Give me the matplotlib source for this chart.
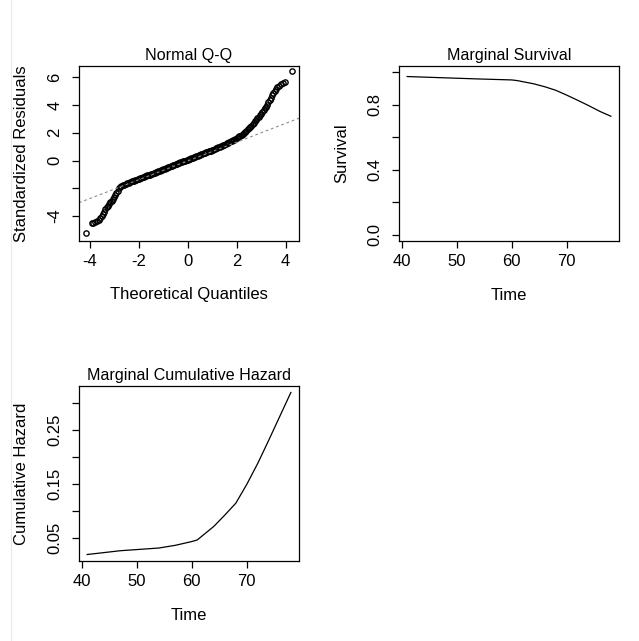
import numpy as np
import matplotlib
matplotlib.use("Agg")
import matplotlib.pyplot as plt
from matplotlib.lines import Line2D

plt.rcParams['font.family'] = ['Liberation Sans', 'DejaVu Sans']

# Normal Q-Q: theoretical quantiles and standardized residuals
qq_theo = [
    -4.17, -3.93, -3.86, -3.79, -3.72, -3.65, -3.58, -3.52, -3.47, -3.42,
    -3.37, -3.32, -3.27, -3.22, -3.17, -3.12, -3.07, -3.02, -2.97, -2.92,
    -2.87, -2.82, -2.77, -2.72, -2.66, -2.60, -2.54, -2.48, -2.42, -2.36,
    -2.30, -2.25, -2.20, -2.15, -2.10, -2.05, -2.00, -1.95, -1.90, -1.85,
    -1.80, -1.75, -1.70, -1.65, -1.60, -1.55, -1.50, -1.45, -1.40, -1.35,
    -1.30, -1.25, -1.20, -1.15, -1.10, -1.05, -1.00, -0.95, -0.90, -0.85,
    -0.80, -0.75, -0.70, -0.65, -0.60, -0.55, -0.50, -0.45, -0.40, -0.35,
    -0.30, -0.25, -0.20, -0.15, -0.10, -0.05, 0.00, 0.05, 0.10, 0.15,
    0.20, 0.25, 0.30, 0.35, 0.40, 0.45, 0.50, 0.55, 0.60, 0.65,
    0.70, 0.75, 0.80, 0.85, 0.90, 0.95, 1.00, 1.05, 1.10, 1.15,
    1.20, 1.25, 1.30, 1.35, 1.40, 1.45, 1.50, 1.55, 1.60, 1.65,
    1.70, 1.75, 1.80, 1.85, 1.90, 1.95, 2.00, 2.05, 2.10, 2.15,
    2.20, 2.25, 2.30, 2.35, 2.40, 2.45, 2.50, 2.55, 2.60, 2.65,
    2.70, 2.75, 2.80, 2.85, 2.90, 2.95, 3.00, 3.05, 3.10, 3.15,
    3.20, 3.25, 3.30, 3.35, 3.40, 3.45, 3.50, 3.55, 3.60, 3.66,
    3.72, 3.80, 3.90, 3.97, 4.25,
]
qq_resid = [
    -5.20, -4.53, -4.48, -4.43, -4.36, -4.27, -4.16, -4.02, -3.85, -3.68,
    -3.52, -3.38, -3.25, -3.13, -3.01, -2.89, -2.77, -2.64, -2.50, -2.36,
    -2.18, -2.01, -1.92, -1.85, -1.79, -1.74, -1.69, -1.65, -1.60, -1.55,
    -1.51, -1.48, -1.45, -1.41, -1.38, -1.34, -1.31, -1.28, -1.25, -1.21,
    -1.18, -1.15, -1.12, -1.08, -1.05, -1.01, -0.98, -0.94, -0.91, -0.87,
    -0.84, -0.80, -0.77, -0.73, -0.70, -0.66, -0.63, -0.59, -0.56, -0.52,
    -0.49, -0.45, -0.42, -0.38, -0.35, -0.31, -0.28, -0.24, -0.21, -0.17,
    -0.14, -0.10, -0.07, -0.03, 0.00, 0.04, 0.07, 0.10, 0.13, 0.17,
    0.20, 0.24, 0.27, 0.31, 0.34, 0.37, 0.40, 0.44, 0.47, 0.51,
    0.54, 0.58, 0.61, 0.65, 0.68, 0.72, 0.75, 0.79, 0.83, 0.87,
    0.91, 0.95, 0.99, 1.03, 1.07, 1.11, 1.15, 1.20, 1.24, 1.29,
    1.33, 1.37, 1.41, 1.46, 1.50, 1.55, 1.61, 1.67, 1.73, 1.79,
    1.86, 1.93, 2.00, 2.08, 2.16, 2.24, 2.33, 2.42, 2.52, 2.62,
    2.72, 2.82, 2.93, 3.04, 3.15, 3.26, 3.38, 3.50, 3.62, 3.75,
    3.89, 4.03, 4.18, 4.34, 4.52, 4.70, 4.88, 5.02, 5.15, 5.27,
    5.38, 5.50, 5.60, 5.66, 6.45,
]
# reference line (qqline): intercept, slope
qq_line = (-0.03, 0.676)

# marginal survival / cumulative hazard over time
times = [41, 47, 54, 57, 60, 61, 64, 66, 68, 70, 72, 74, 76, 78]
survival = [0.975, 0.968, 0.960, 0.957, 0.954, 0.950, 0.930, 0.912,
            0.890, 0.860, 0.828, 0.795, 0.760, 0.730]
cumhaz = [0.020, 0.027, 0.032, 0.037, 0.044, 0.047, 0.072, 0.093,
          0.115, 0.150, 0.189, 0.232, 0.276, 0.320]

W, H = 639, 641
FS = 12
TITLE_FS = 11.6


def r_axes(fig, left_px, top_px):
    ax = fig.add_axes([left_px / W, 1 - (top_px + 175) / H, 220 / W, 175 / H])
    for sp in ax.spines.values():
        sp.set_linewidth(0.9)
    ax.tick_params(direction='out', length=5, width=0.9, labelsize=FS,
                   colors='black')
    ax.tick_params(axis='x', pad=4.3)
    ax.tick_params(axis='y', pad=7)
    return ax


def finish(ax, title, xlabel, ylabel, yticks, ylabels, xticks):
    ax.set_xticks(xticks)
    ax.set_xticklabels([str(t) for t in xticks])
    ax.set_yticks(yticks)
    ax.set_yticklabels(ylabels, rotation=90, va='center')
    ax.set_title(title, fontsize=TITLE_FS, pad=4.5)
    ax.set_xlabel(xlabel, fontsize=FS)
    ax.set_ylabel(ylabel, fontsize=FS)
    ax.xaxis.set_label_coords(0.5, -54 / 175)
    ax.xaxis.label.set_verticalalignment('center')
    ax.yaxis.set_label_coords(-57 / 220, 0.5)
    ax.yaxis.label.set_verticalalignment('center')


def rlim(vals):
    lo, hi = min(vals), max(vals)
    d = 0.04 * (hi - lo)
    return lo - d, hi + d


fig = plt.figure(figsize=(W / 100, H / 100), dpi=100)
fig.add_artist(Line2D([11 / W, 11 / W], [0, 1], color='#e4e8f0', lw=0.8))

# Normal Q-Q
ax1 = r_axes(fig, 79, 66)
ax1.plot(qq_theo, qq_resid, 'o', mfc='none', mec='black', ms=3.8, mew=1.0)
xl = np.array([-4.45, 4.55])
ax1.plot(xl, qq_line[0] + qq_line[1] * xl, color='#8c8c8c', lw=0.8,
         dashes=(2.5, 2.5))
ax1.set_xlim(-4.45, 4.55)
ax1.set_ylim(-5.80, 6.81)
finish(ax1, 'Normal Q-Q', 'Theoretical Quantiles', 'Standardized Residuals',
       [-4, -2, 0, 2, 4, 6], ['-4', '', '0', '2', '4', '6'],
       [-4, -2, 0, 2, 4])

# Marginal Survival
ax2 = r_axes(fig, 399, 66)
ax2.plot(times, survival, color='black', lw=0.9)
ax2.set_xlim(*rlim(times))
ax2.set_ylim(-0.04, 1.04)
finish(ax2, 'Marginal Survival', 'Time', 'Survival',
       [0, 0.2, 0.4, 0.6, 0.8, 1.0], ['0.0', '', '0.4', '', '0.8', ''],
       [40, 50, 60, 70])

# Marginal Cumulative Hazard
ax3 = r_axes(fig, 79, 386)
ax3.plot(times, cumhaz, color='black', lw=0.9)
ax3.set_xlim(*rlim(times))
ax3.set_ylim(*rlim(cumhaz))
finish(ax3, 'Marginal Cumulative Hazard', 'Time', 'Cumulative Hazard',
       [0.05, 0.10, 0.15, 0.20, 0.25, 0.30],
       ['0.05', '', '0.15', '', '0.25', ''],
       [40, 50, 60, 70])

fig.savefig('out.png', dpi=100)
